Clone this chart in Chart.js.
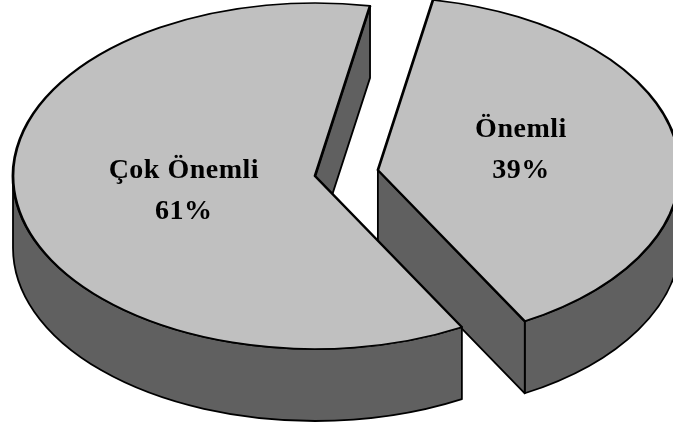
<!DOCTYPE html>
<html>
<head>
<meta charset="utf-8">
<script src="https://cdn.jsdelivr.net/npm/chart.js@4/dist/chart.umd.min.js"></script>
<style>
  html, body { margin: 0; padding: 0; background: #fff; }
  #wrap { width: 673px; height: 429px; }
</style>
</head>
<body>
<div id="wrap"><canvas id="pie" width="673" height="429"></canvas></div>
<script>
// chart data
const labels = ['Önemli', 'Çok Önemli'];
const values = [39, 61];
const explode = [0.211, 0]; // share of radius each slice is pulled out

// look
const topColor = '#C0C0C0';
const sideColor = '#606060';
const radius = 173;          // vertical radius of the top face
const stretchX = 302 / 173;  // ellipse is wider than tall
const depth = 72;            // height of the pie walls
const labelPos = [{ f: 0.48, dy: 0 }, { f: 0.44, dy: 10 }];

const total = values.reduce((s, v) => s + v, 0);

const pie3d = {
  id: 'pie3d',
  beforeDatasetsDraw(chart) {
    const ctx = chart.ctx;
    const arcs = chart.getDatasetMeta(0).data;
    const parts = arcs.map((a, i) => {
      const p = a.getProps(['x', 'y', 'startAngle', 'endAngle', 'outerRadius']);
      const mid = (p.startAngle + p.endAngle) / 2;
      const d = explode[i] * p.outerRadius;
      return { ...p, el: a, mid, dx: Math.cos(mid) * d, dy: Math.sin(mid) * d };
    });

    const apply = (q) => {
      ctx.translate(q.x, q.y);
      ctx.scale(stretchX, 1);
      ctx.translate(-q.x, -q.y);
      ctx.translate(q.dx, q.dy);
    };

    // fill + stroke a path built under the stretched transform, stroke unstretched
    const shape = (q, build) => {
      ctx.save();
      apply(q);
      ctx.beginPath();
      build();
      ctx.restore();
      ctx.save();
      ctx.fillStyle = sideColor;
      ctx.strokeStyle = '#000';
      ctx.lineWidth = 1.8;
      ctx.lineJoin = 'round';
      ctx.fill();
      ctx.stroke();
      ctx.restore();
    };

    // walls first
    parts.forEach(q => {
      const { x, y, startAngle: a, endAngle: b, outerRadius: r } = q;
      // outer curved wall, only the front half shows
      for (let k = -1; k <= 1; k++) {
        const lo = Math.max(a, 2 * Math.PI * k);
        const hi = Math.min(b, 2 * Math.PI * k + Math.PI);
        if (hi > lo) {
          shape(q, () => {
            ctx.arc(x, y, r, lo, hi);
            ctx.lineTo(x + r * Math.cos(hi), y + r * Math.sin(hi) + depth);
            ctx.arc(x, y + depth, r, hi, lo, true);
            ctx.closePath();
          });
        }
      }
      // radial walls facing the viewer
      const radial = (ang) => shape(q, () => {
        ctx.moveTo(x, y);
        ctx.lineTo(x + r * Math.cos(ang), y + r * Math.sin(ang));
        ctx.lineTo(x + r * Math.cos(ang), y + r * Math.sin(ang) + depth);
        ctx.lineTo(x, y + depth);
        ctx.closePath();
      });
      if (Math.cos(a) < 0) radial(a);
      if (Math.cos(b) > 0) radial(b);
    });

    // top faces, drawn by the arc elements
    parts.forEach(q => {
      ctx.save();
      apply(q);
      q.el.draw(ctx);
      ctx.restore();
    });

    // labels
    ctx.save();
    ctx.fillStyle = '#000';
    ctx.font = 'bold 28px "Liberation Serif", "Times New Roman", serif';
    ctx.textAlign = 'center';
    ctx.textBaseline = 'alphabetic';
    if ('letterSpacing' in ctx) ctx.letterSpacing = '0.5px';
    parts.forEach((q, i) => {
      const lp = labelPos[i];
      const ux = q.x + q.dx + Math.cos(q.mid) * q.outerRadius * lp.f;
      const uy = q.y + q.dy + Math.sin(q.mid) * q.outerRadius * lp.f + lp.dy;
      const X = q.x + stretchX * (ux - q.x);
      const pct = Math.round(values[i] / total * 100) + '%';
      ctx.fillText(labels[i], X, uy - 20);
      ctx.fillText(pct, X, uy + 21);
    });
    ctx.restore();

    return false;
  }
};

new Chart(document.getElementById('pie'), {
  type: 'pie',
  data: {
    labels,
    datasets: [{
      data: values,
      backgroundColor: topColor,
      borderColor: '#000',
      borderWidth: 1.6
    }]
  },
  options: {
    responsive: false,
    animation: false,
    events: [],
    rotation: 10.5,
    radius: radius,
    layout: { padding: { left: 0, right: 43, top: 0, bottom: 77 } },
    plugins: { legend: { display: false }, tooltip: { enabled: false } }
  },
  plugins: [pie3d]
});
</script>
</body>
</html>
